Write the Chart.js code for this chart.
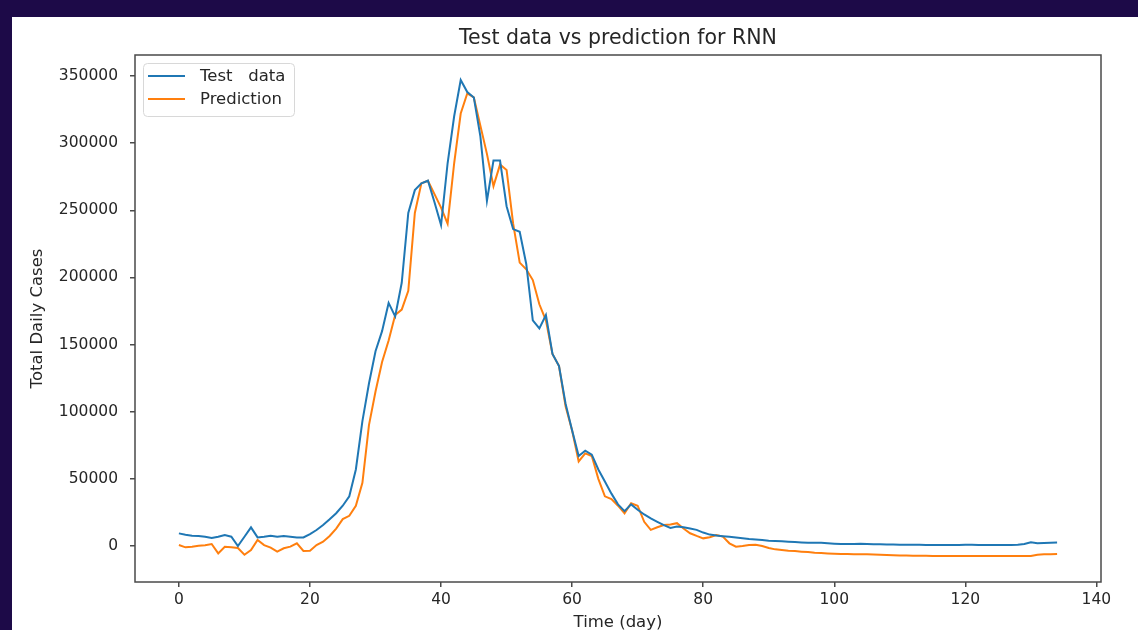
<!DOCTYPE html>
<html><head><meta charset="utf-8">
<script src="https://cdn.jsdelivr.net/npm/chart.js@4.4.0/dist/chart.umd.min.js"></script>
<style>
html,body{margin:0;padding:0;background:#1d0a48;overflow:hidden}
#c{position:absolute;left:0;top:0}
</style></head>
<body>
<canvas id="c" width="1138" height="630"></canvas>
<script>
const chartTitle = 'Test data vs prediction for RNN';
const seriesLabels = ['Test   data', 'Prediction'];
const xTicks = [0, 20, 40, 60, 80, 100, 120, 140];
const yTicks = [0, 50000, 100000, 150000, 200000, 250000, 300000, 350000];

const testData = [
  9400, 8400, 7700, 7400, 6900, 5900, 6900, 8200, 6900, 0,
  6900, 13900, 6400, 6900, 7700, 6900, 7400, 6900, 6400, 6400,
  8900, 11900, 15600, 19900, 24400, 30000, 37000, 57000, 93000, 121000,
  145000, 160000, 181000, 171000, 196000, 248000, 265000, 270000, 272000, 256000,
  239000, 285000, 320000, 347000, 338000, 334000, 305000, 257000, 287000, 287000,
  253000, 236000, 234000, 210000, 168000, 162000, 172000, 143000, 134000, 106000,
  86000, 67000, 71000, 68000, 57000, 48000, 39000, 31000, 26000, 31000,
  27000, 23500, 20500, 18000, 15500, 13500, 14500, 14000, 13000, 12000,
  10000, 8500, 7800, 7300, 6900, 6300, 5800, 5200, 4800, 4400,
  4000, 3800, 3500, 3200, 3000, 2700, 2500, 2500, 2400, 2000,
  1700, 1500, 1500, 1500, 1600, 1500, 1400, 1300, 1200, 1100,
  1000, 1000, 900, 900, 800, 800, 700, 700, 800, 800,
  900, 900, 800, 800, 700, 700, 800, 800, 900, 1500,
  2800, 2000, 2300, 2500, 2600
];

const prediction = [
  700, -1000, -500, 200, 500, 1500, -5500, -500, -1000, -1500,
  -6500, -3000, 4500, 700, -1200, -4200, -1700, -500, 2000, -3700,
  -3500, 700, 3200, 7500, 13000, 20000, 22500, 30000, 47000, 90000,
  115000, 137000, 153000, 172000, 176000, 190000, 248000, 270000, 272000, 262000,
  252000, 240000, 285000, 322000, 337000, 334000, 313000, 292000, 268000, 284000,
  280000, 240000, 211000, 206000, 198000, 180000, 168000, 143000, 134000, 104000,
  86000, 63000, 69000, 67000, 50000, 37000, 35000, 30000, 24400, 31800,
  30000, 18000, 12000, 14000, 15600, 16000, 17000, 13000, 9500, 7500,
  5700, 6500, 8200, 7000, 2000, -500, 0, 700, 1000, 0,
  -1500, -2500, -3000, -3500, -3800, -4200, -4500, -5000, -5200, -5500,
  -5800, -6000, -6000, -6100, -6200, -6200, -6400, -6500, -6700, -6900,
  -7000, -7100, -7200, -7300, -7300, -7400, -7400, -7500, -7500, -7500,
  -7500, -7500, -7500, -7500, -7500, -7500, -7500, -7500, -7500, -7500,
  -7500, -6500, -6200, -6200, -6000
];

const FONT = 'DejaVu Sans';
const TXT = '#262626';

const bgPlugin = {
  id: 'bg',
  beforeDraw(chart) {
    const ctx = chart.ctx;
    ctx.save();
    ctx.fillStyle = '#1d0a48';
    ctx.fillRect(0, 0, chart.width, chart.height);
    ctx.fillStyle = '#ffffff';
    ctx.fillRect(12, 17, chart.width - 12, chart.height - 17);
    ctx.restore();
  }
};

const framePlugin = {
  id: 'frame',
  afterDatasetsDraw(chart) {
    const {ctx, chartArea: a} = chart;
    ctx.save();
    ctx.strokeStyle = '#4a4a4a';
    ctx.lineWidth = 1.5;
    ctx.strokeRect(a.left, a.top, a.right - a.left, a.bottom - a.top);
    ctx.restore();
  }
};

const legendPlugin = {
  id: 'innerLegend',
  afterDraw(chart) {
    const {ctx, chartArea: a} = chart;
    const x0 = a.left + 8, y0 = a.top + 8, w = 151, h = 53, r = 4;
    ctx.save();
    ctx.beginPath();
    ctx.roundRect(x0 + 0.5, y0 + 0.5, w, h, r);
    ctx.fillStyle = 'rgba(255,255,255,0.85)';
    ctx.fill();
    ctx.strokeStyle = '#d8d8d8';
    ctx.lineWidth = 1;
    ctx.stroke();
    ctx.font = '16.5px "' + FONT + '"';
    ctx.textBaseline = 'middle';
    ctx.textAlign = 'left';
    chart.data.datasets.forEach((ds, i) => {
      const y = y0 + 13 + i * 23;
      ctx.beginPath();
      ctx.moveTo(x0 + 5, y);
      ctx.lineTo(x0 + 42, y);
      ctx.strokeStyle = ds.borderColor;
      ctx.lineWidth = 2;
      ctx.stroke();
      ctx.fillStyle = TXT;
      ctx.fillText(ds.label, x0 + 57, y + 1);
    });
    ctx.restore();
  }
};

const toPoints = arr => arr.map((v, i) => ({x: i, y: v}));

new Chart(document.getElementById('c'), {
  type: 'line',
  data: {
    datasets: [
      {label: seriesLabels[0], data: toPoints(testData), borderColor: '#1f77b4', borderWidth: 2, pointRadius: 0, tension: 0, fill: false},
      {label: seriesLabels[1], data: toPoints(prediction), borderColor: '#ff7f0e', borderWidth: 2, pointRadius: 0, tension: 0, fill: false}
    ]
  },
  options: {
    responsive: false,
    animation: false,
    devicePixelRatio: 1,
    layout: {padding: {left: 0, right: 37, top: 0, bottom: 0}},
    plugins: {
      legend: {display: false},
      tooltip: {enabled: false},
      title: {
        display: true, text: chartTitle, fullSize: false,
        color: TXT, font: {family: FONT, size: 20.5, weight: 'normal', lineHeight: 1.2},
        padding: {top: 26, bottom: 4.4}
      }
    },
    scales: {
      x: {
        type: 'linear', min: -6.7, max: 140.7,
        afterBuildTicks: s => { s.ticks = xTicks.map(v => ({value: v})); },
        afterFit: s => { s.height = 48; },
        grid: {drawOnChartArea: false, drawTicks: true, tickLength: 5, color: '#4a4a4a', lineWidth: 1.5},
        border: {display: false},
        ticks: {font: {family: FONT, size: 15.5}, color: TXT, padding: 4, maxRotation: 0, autoSkip: false},
        title: {display: true, text: 'Time (day)', color: TXT, font: {family: FONT, size: 16.5, lineHeight: 0.85}, padding: {top: 0, bottom: 0}}
      },
      y: {
        type: 'linear', min: -26800, max: 365600,
        afterBuildTicks: s => { s.ticks = yTicks.map(v => ({value: v})); },
        afterFit: s => { s.width = 135; },
        grid: {drawOnChartArea: false, drawTicks: true, tickLength: 5, color: '#4a4a4a', lineWidth: 1.5},
        border: {display: false},
        ticks: {font: {family: FONT, size: 15.5}, color: TXT, padding: 12, autoSkip: false, callback: v => String(v)},
        title: {display: true, text: 'Total Daily Cases', color: TXT, font: {family: FONT, size: 16.5, lineHeight: 1.2}, padding: {top: 28, bottom: 0}}
      }
    }
  },
  plugins: [bgPlugin, framePlugin, legendPlugin]
});
</script>
</body></html>
